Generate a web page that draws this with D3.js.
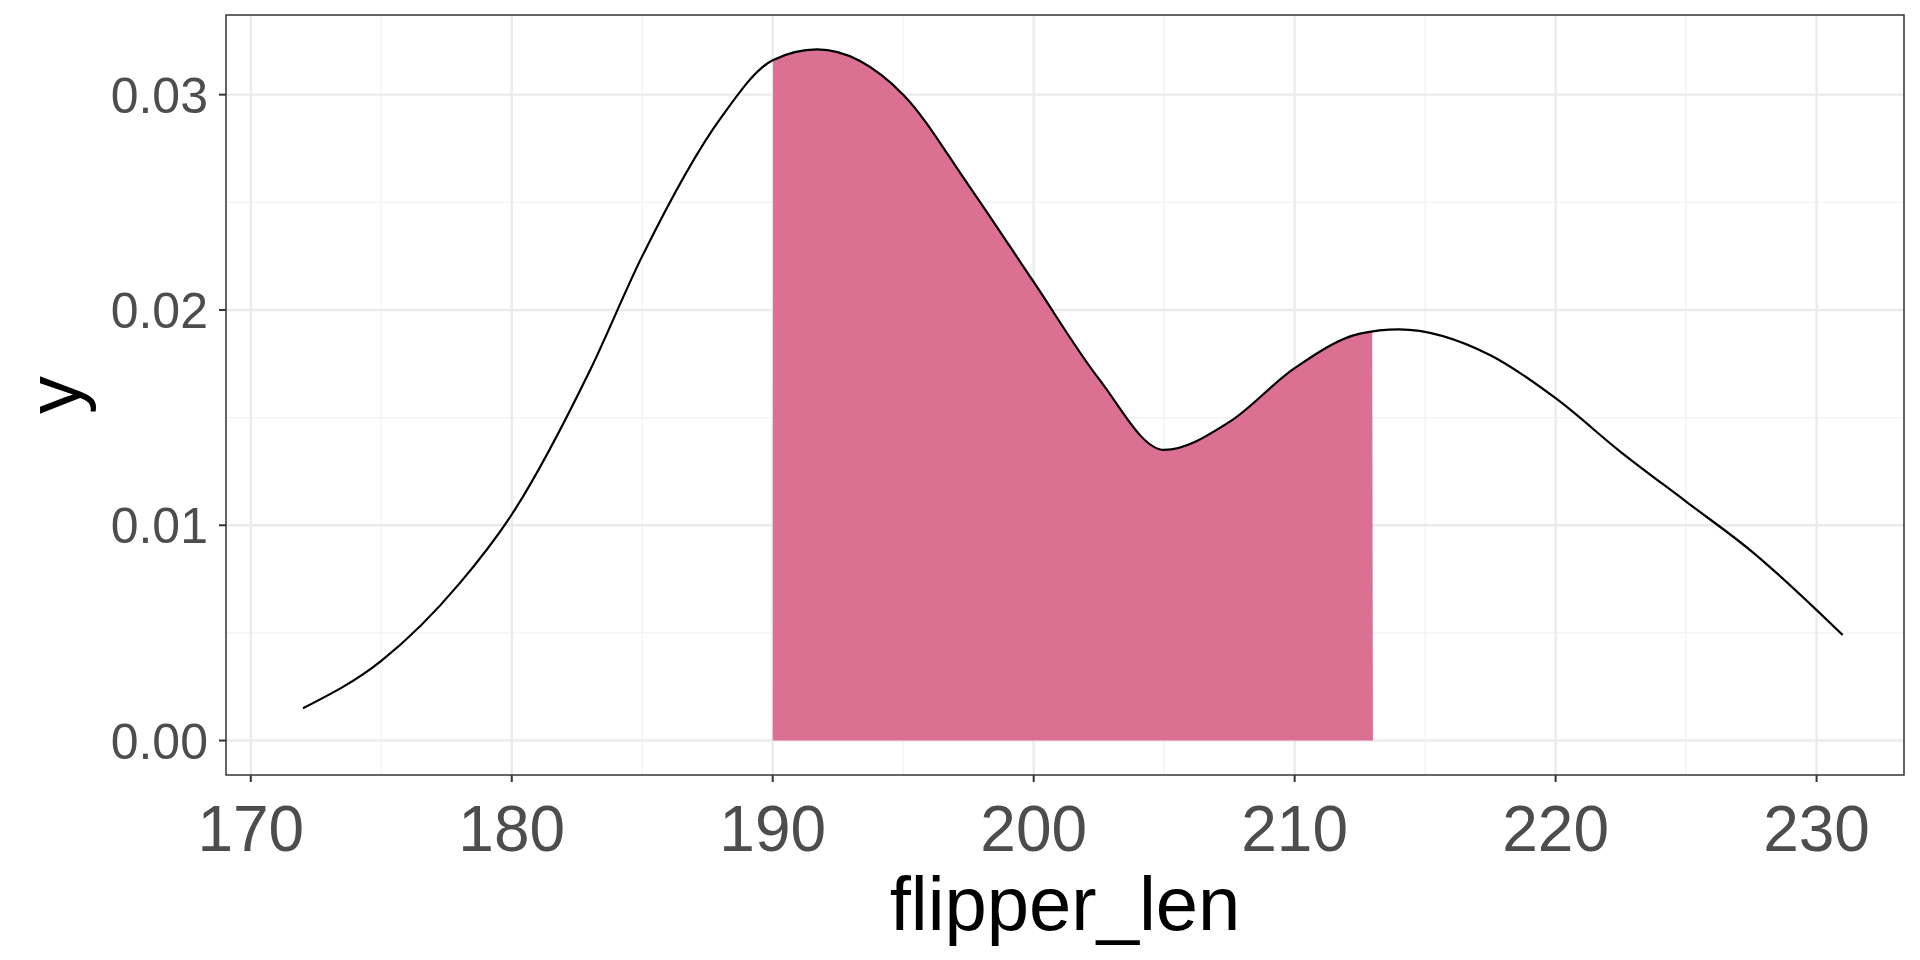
<!DOCTYPE html>
<html><head><meta charset="utf-8">
<script src="https://cdn.jsdelivr.net/npm/d3@7"></script>
<style>body{margin:0;background:#fff}text{font-family:"Liberation Sans",Arial,sans-serif}</style>
</head><body><div id="chart-area"></div>
<script>
// density curve
const xs = [172,175,178,180,183,185,188,190,191.7,195,197.5,200,202.5,205,207.5,210,212.5,214,217.5,220,222.5,225,227.5,231]
const ys = [0.0015,0.0037,0.0073,0.0105,0.0172,0.0225,0.0289,0.0316,0.0321,0.0300,0.0258,0.0213,0.0168,0.0135,0.0148,0.0173,0.0189,0.0191,0.0179,0.0159,0.0134,0.0111,0.0088,0.0049]
const xTicks = [170,180,190,200,210,220,230]
const yTicks = [0,0.01,0.02,0.03]
const shadeFrom = 190, shadeTo = 213

const W = 1920, H = 960
const m = {left:226, right:16, top:15, bottom:185}
const svg = d3.select("#chart-area").append("svg").attr("width",W).attr("height",H)

const x = d3.scaleLinear().domain([169.05,233.35]).range([m.left, W-m.right])
const y = d3.scaleLinear().domain([-0.0016,0.0337]).range([H-m.bottom, m.top])

const pts = xs.map((d,i)=>({x:d,y:ys[i]}))

// grid
const minorX = d3.range(175,235,10), minorY = [0.005,0.015,0.025]
svg.selectAll(".gxm").data(minorX).enter().append("line")
   .attr("x1",d=>x(d)).attr("x2",d=>x(d)).attr("y1",m.top).attr("y2",H-m.bottom)
   .attr("stroke","#f2f2f2").attr("stroke-width",1.2)
svg.selectAll(".gym").data(minorY).enter().append("line")
   .attr("y1",d=>y(d)).attr("y2",d=>y(d)).attr("x1",m.left).attr("x2",W-m.right)
   .attr("stroke","#f2f2f2").attr("stroke-width",1.2)
svg.selectAll(".gx").data(xTicks).enter().append("line")
   .attr("x1",d=>x(d)).attr("x2",d=>x(d)).attr("y1",m.top).attr("y2",H-m.bottom)
   .attr("stroke","#ebebeb").attr("stroke-width",2.4)
svg.selectAll(".gy").data(yTicks).enter().append("line")
   .attr("y1",d=>y(d)).attr("y2",d=>y(d)).attr("x1",m.left).attr("x2",W-m.right)
   .attr("stroke","#ebebeb").attr("stroke-width",2.4)

// shaded area: sample the same curve via a hidden path
const line = d3.line().x(d=>x(d.x)).y(d=>y(d.y)).curve(d3.curveMonotoneX)
const hidden = svg.append("path").attr("d",line(pts)).attr("fill","none")
const node = hidden.node(), len = node.getTotalLength()
const samples = []
for (let l=0; l<=len; l+=1) { const p=node.getPointAtLength(l); samples.push(p) }
const x0 = x(shadeFrom), x1 = x(shadeTo)
const inside = samples.filter(p=>p.x>=x0 && p.x<=x1)
const poly = [[x0,y(0)],...inside.map(p=>[p.x,p.y]),[x1,y(0)]]
svg.append("path").attr("d","M"+poly.map(p=>p.join(",")).join("L")+"Z")
   .attr("fill","#db7093")
hidden.remove()

svg.append("path").attr("d",line(pts)).attr("fill","none").attr("stroke","#000").attr("stroke-width",2.2)

// panel border
svg.append("rect").attr("x",m.left).attr("y",m.top).attr("width",W-m.left-m.right).attr("height",H-m.top-m.bottom)
   .attr("fill","none").attr("stroke","#333").attr("stroke-width",1.5)

// ticks
svg.selectAll(".tx").data(xTicks).enter().append("line")
   .attr("x1",d=>x(d)).attr("x2",d=>x(d)).attr("y1",H-m.bottom).attr("y2",H-m.bottom+7)
   .attr("stroke","#333").attr("stroke-width",2)
svg.selectAll(".ty").data(yTicks).enter().append("line")
   .attr("y1",d=>y(d)).attr("y2",d=>y(d)).attr("x1",m.left-7).attr("x2",m.left)
   .attr("stroke","#333").attr("stroke-width",2)
svg.selectAll(".lx").data(xTicks).enter().append("text")
   .attr("x",d=>x(d)).attr("y",851).attr("text-anchor","middle")
   .attr("font-size",64).attr("fill","#4d4d4d").text(d=>d)
svg.selectAll(".ly").data(yTicks).enter().append("text")
   .attr("x",208).attr("y",d=>y(d)).attr("dy","0.36em").attr("text-anchor","end")
   .attr("font-size",50).attr("fill","#4d4d4d").text(d=>d3.format(".2f")(d))

svg.append("text").attr("x",(m.left+W-m.right)/2).attr("y",930).attr("text-anchor","middle")
   .attr("font-size",76).attr("fill","#000").text("flipper_len")
svg.append("text").attr("transform",`translate(80,${(m.top+H-m.bottom)/2}) rotate(-90)`)
   .attr("text-anchor","middle").attr("font-size",76).attr("fill","#000").text("y")
</script></body></html>
